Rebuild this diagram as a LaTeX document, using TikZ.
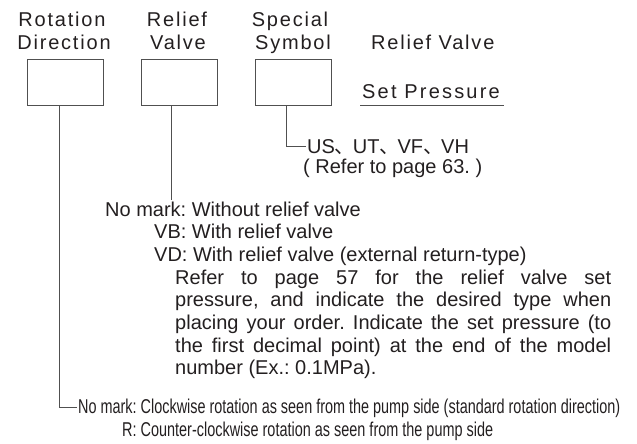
\documentclass[tikz,border=0pt]{standalone}
\usepackage{fontspec}
\usepackage{graphicx}
\setmainfont{Liberation Sans}
\newfontfamily\hdfont[LetterSpace=9]{Liberation Sans}
\newfontfamily\cjkfont{Noto Sans CJK JP}
\definecolor{ink}{HTML}{231F20}
\definecolor{rule}{HTML}{505050}
\newcommand{\jcomma}{\makebox[0.9em][l]{\cjkfont 、}}
\begin{document}
\begin{tikzpicture}[x=1pt,y=-1pt,
  every node/.style={text=ink,font=\fontsize{20}{22.7}\selectfont\frenchspacing},
  hd/.style={font=\fontsize{20}{22.3}\selectfont\hdfont,inner sep=0pt},
  codebox/.style={draw=rule,line width=0.8pt,minimum width=76pt,minimum height=46pt,inner sep=0pt},
  txt/.style={inner sep=1pt},
  conn/.style={draw=rule,line width=0.8pt}]
\useasboundingbox (0,0) rectangle (637,444);
% header labels
\node[hd,anchor=base] (h1a) at (62,27) {Rotation};
\node[hd,anchor=base] (h1b) at (64,49) {Direction};
\node[hd,anchor=base] (h2a) at (177,27) {Relief};
\node[hd,anchor=base] (h2b) at (178,49) {Valve};
\node[hd,anchor=base] (h3a) at (290,27) {Special};
\node[hd,anchor=base] (h3b) at (293,49) {Symbol};
\node[hd,anchor=base west] (h4) at (371,50) {Relief Valve};
\node[hd,anchor=base west,font=\fontsize{20}{22.3}\selectfont\hdfont\addfontfeature{LetterSpace=11}] (h5) at (362,99) {Set Pressure};
\coordinate (u1) at (360,105);
\coordinate (u2) at (504,105);
\draw[conn] (u1) -- (u2);
% boxes
\node[codebox] (b1) at (65,82) {};
\node[codebox] (b2) at (179.5,82) {};
\node[codebox] (b3) at (293,82) {};
% special symbol
\node[txt,anchor=base west] (ss1) at (306,153) {US\jcomma UT\jcomma VF\jcomma VH};
\node[txt,anchor=base west] (ss2) at (302,173) {( Refer to page 63. )};
\draw[conn] ([xshift=-7pt]b3.south) |- ([yshift=7pt]ss1.base west);
% relief valve
\node[txt,anchor=base west] (rv1) at (104,216) {No mark: Without relief valve};
\node[txt,anchor=base west] (rv2) at (153,238.5) {VB: With relief valve};
\node[txt,anchor=base west] (rv3) at (153,261) {VD: With relief valve (external return-type)};
\node[inner sep=0pt,anchor=north west,text width=436pt,align=justify] (rv4) at (175,269.5)
 {Refer to page 57 for the relief valve set\linebreak pressure, and indicate the desired type when\linebreak placing your order. Indicate the set pressure (to\linebreak the first decimal point) at the end of the model\linebreak number (Ex.: 0.1MPa).};
\draw[conn] ([xshift=-8.5pt]b2.south) -- ([xshift=-8.5pt]b2.south |- rv1.north);
% rotation direction
\node[txt,anchor=base west] (rd1) at (77,413.5) {\resizebox{542pt}{\height}{No mark: Clockwise rotation as seen from the pump side (standard rotation direction)}};
\node[txt,anchor=base west] (rd2) at (121,436.5) {\resizebox{371pt}{\height}{R: Counter-clockwise rotation as seen from the pump side}};
\draw[conn] ([xshift=-6pt]b1.south) |- ([yshift=6.5pt]rd1.base west);
\end{tikzpicture}
\end{document}
